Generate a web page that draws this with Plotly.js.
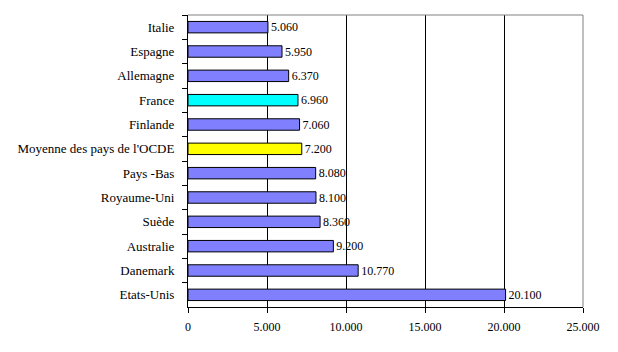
<!DOCTYPE html>
<html>
<head>
<meta charset="utf-8">
<script src="https://cdn.plot.ly/plotly-3.0.1.min.js"></script>
<style>html,body{margin:0;padding:0;background:#fff;}#chart{width:618px;height:352px;}</style>
</head>
<body>
<div id="chart"></div>
<script>
const categories = ["Italie","Espagne","Allemagne","France","Finlande","Moyenne des pays de l'OCDE","Pays -Bas","Royaume-Uni","Suède","Australie","Danemark","Etats-Unis"];
const values = [5060,5950,6370,6960,7060,7200,8080,8100,8360,9200,10770,20100];
const barColors = ["#8080FF","#8080FF","#8080FF","#00FFFF","#8080FF","#FFFF00","#8080FF","#8080FF","#8080FF","#8080FF","#8080FF","#8080FF"];
const xTicks = [0,5000,10000,15000,20000,25000];

const fontNum = {family: "Times New Roman, Liberation Serif, serif", size: 12, color: "#000"};
const fontCat = {family: "Times New Roman, Liberation Serif, serif", size: 13, color: "#000"};

const trace = {
  type: "bar",
  orientation: "h",
  y: categories,
  x: values,
  width: 0.47,
  marker: {color: barColors, line: {color: "#000", width: 1}},
  texttemplate: "%{x:,}",
  textposition: "outside",
  constraintext: "none",
  textfont: fontNum,
  cliponaxis: false,
  hoverinfo: "none"
};

const layout = {
  width: 618, height: 352,
  margin: {l: 188, r: 35, t: 15, b: 45},
  paper_bgcolor: "#fff", plot_bgcolor: "#fff",
  separators: ",.",
  font: fontNum,
  showlegend: false,
  xaxis: {
    range: [0, 25000],
    tickvals: xTicks,
    tickformat: ",d",
    tickfont: fontNum,
    ticklabelstandoff: 4,
    showgrid: true, gridcolor: "#000", gridwidth: 1,
    zeroline: false,
    showline: true, linecolor: "#000", linewidth: 1,
    ticks: "outside", ticklen: 5, tickcolor: "#000",
    fixedrange: true
  },
  yaxis: {
    autorange: "reversed",
    type: "category",
    tickfont: fontCat,
    ticklabelstandoff: 10,
    showgrid: false, zeroline: false,
    showline: true, linecolor: "#000", linewidth: 1,
    ticks: "outside", tickson: "boundaries", ticklen: 5, tickcolor: "#000",
    fixedrange: true
  },
  shapes: [
    {type: "line", xref: "paper", yref: "paper", x0: 0, x1: 1, y0: 1, y1: 1, line: {color: "#808080", width: 1}},
    {type: "line", xref: "paper", yref: "paper", x0: 1, x1: 1, y0: 0, y1: 1, line: {color: "#808080", width: 1}}
  ]
};

Plotly.newPlot("chart", [trace], layout, {staticPlot: true, displayModeBar: false});
</script>
</body>
</html>
